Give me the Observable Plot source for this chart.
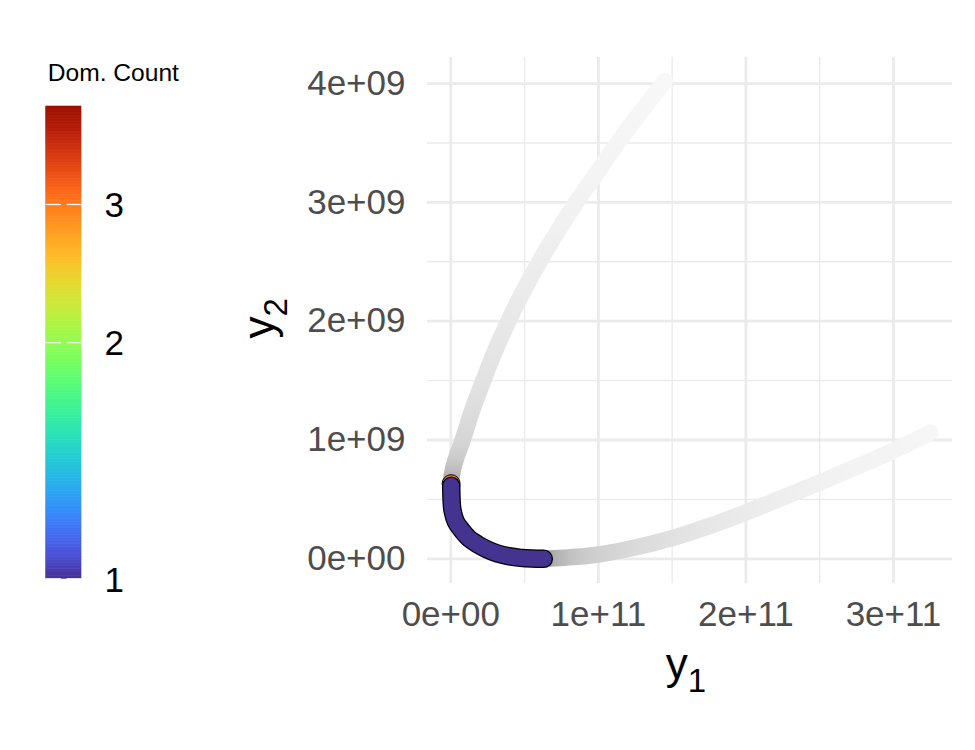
<!DOCTYPE html>
<html>
<head>
<meta charset="utf-8">
<script src="https://cdn.jsdelivr.net/npm/d3@7"></script>
<script src="https://cdn.jsdelivr.net/npm/@observablehq/plot@0.6"></script>
<style>
  body { margin: 0; background: white; }
  #wrap { display: flex; flex-direction: row; width: 975px; height: 750px; background: white; }
  #wrap svg { display: block; }
</style>
</head>
<body>
<div id="wrap"></div>
<script>
// ---------- data ----------
// gray path, upper branch (from top end down to the front)
const upperX = [1.45e11, 1.28e11, 1.13e11, 0.99e11, 0.85e11, 0.72e11, 0.60e11, 0.49e11, 0.39e11, 0.30e11, 0.22e11, 0.145e11, 0.08e11, 0.037e11, 0.012e11, 0.002e11, 0.0];
const upperY = [4.02e9, 3.75e9, 3.50e9, 3.25e9, 3.00e9, 2.75e9, 2.50e9, 2.25e9, 2.00e9, 1.75e9, 1.50e9, 1.25e9, 1.00e9, 0.85e9, 0.74e9, 0.66e9, 0.614e9];
const upperShade = [248, 246, 245, 244, 242, 240, 237, 235, 232, 229, 226, 221, 214, 204, 188, 165, 150];
// gray path, lower branch (from the front out to the right end)
const lowerX = [0.63e11, 0.70e11, 0.80e11, 0.90e11, 1.00e11, 1.25e11, 1.50e11, 1.75e11, 2.00e11, 2.25e11, 2.50e11, 2.75e11, 3.00e11, 3.25e11];
const lowerY = [0.0, 0.004e9, 0.012e9, 0.022e9, 0.036e9, 0.095e9, 0.174e9, 0.275e9, 0.39e9, 0.515e9, 0.642e9, 0.775e9, 0.909e9, 1.063e9];
const lowerShade = [150, 175, 192, 202, 208, 218, 225, 231, 235, 238, 241, 243, 244, 246];
// non-dominated front (Dom. Count = 1)
const frontX = [0.003e11, 0.005e11, 0.012e11, 0.035e11, 0.077e11, 0.125e11, 0.179e11, 0.245e11, 0.315e11, 0.39e11, 0.473e11, 0.55e11, 0.63e11];
const frontY = [0.614e9, 0.50e9, 0.404e9, 0.31e9, 0.236e9, 0.17e9, 0.124e9, 0.08e9, 0.045e9, 0.022e9, 0.008e9, 0.002e9, 0.0];
const frontCount = [1, 1, 1, 1, 1, 1, 1, 1, 1, 1, 1, 1, 1];
// single dominated point under the front's upper end
const extraX = [0.002e11];
const extraY = [0.632e9];
const extraCount = [3];

// axes
const xTicks = [0, 1e11, 2e11, 3e11];
const xTickLabels = ["0e+00", "1e+11", "2e+11", "3e+11"];
const xMinor = [0.5e11, 1.5e11, 2.5e11];
const yTicks = [0, 1e9, 2e9, 3e9, 4e9];
const yTickLabels = ["0e+00", "1e+09", "2e+09", "3e+09", "4e+09"];
const yMinor = [0.5e9, 1.5e9, 2.5e9, 3.5e9];
const legendTicks = [1, 2, 3];
const legendTitle = "Dom. Count";
const xTitle = ["y", "1"];
const yTitle = ["y", "2"];

// ---------- shared scales ----------
const FONT = "'Liberation Sans', Arial, Helvetica, sans-serif";
const colorScale = {
  type: "log",
  domain: [1, 4],
  interpolate: t => d3.interpolateTurbo(0.045 + 0.905 * t)
};
const gray = v => { const c = Math.round(v); return d3.rgb(c, c, c).formatHex(); };

const upper = upperX.map((x, i) => ({x, y: upperY[i]}));
const lower = lowerX.map((x, i) => ({x, y: lowerY[i]}));
const front = frontX.map((x, i) => ({x, y: frontY[i], c: frontCount[i]}));
const extra = extraX.map((x, i) => ({x, y: extraY[i], c: extraCount[i]}));

// gradient definitions, positioned with the chart's own scales
function gradientDefs(index, scales) {
  const ns = "http://www.w3.org/2000/svg";
  const defs = document.createElementNS(ns, "defs");
  function grad(id, vals, shades, axis) {
    const s = scales[axis];
    const p0 = s(vals[0]), p1 = s(vals[vals.length - 1]);
    const g = document.createElementNS(ns, "linearGradient");
    g.setAttribute("id", id);
    g.setAttribute("gradientUnits", "userSpaceOnUse");
    if (axis === "y") {
      g.setAttribute("x1", 0); g.setAttribute("x2", 0);
      g.setAttribute("y1", p0); g.setAttribute("y2", p1);
    } else {
      g.setAttribute("y1", 0); g.setAttribute("y2", 0);
      g.setAttribute("x1", p0); g.setAttribute("x2", p1);
    }
    vals.forEach((v, i) => {
      const st = document.createElementNS(ns, "stop");
      st.setAttribute("offset", Math.max(0, Math.min(1, (s(v) - p0) / (p1 - p0))));
      st.setAttribute("stop-color", gray(shades[i]));
      g.appendChild(st);
    });
    defs.appendChild(g);
  }
  grad("gradUpper", upperY, upperShade, "y");
  grad("gradLower", lowerX, lowerShade, "x");
  return defs;
}

// ---------- legend ----------
const nBands = 150;
const bands = d3.range(nBands).map(i => ({
  y1: Math.pow(4, i / nBands),
  y2: Math.pow(4, (i + 1) / nBands),
  v: Math.pow(4, (i + 0.5) / nBands)
}));

const legend = Plot.plot({
  width: 200,
  height: 750,
  marginLeft: 45.7,
  marginRight: 119,
  marginTop: 106,
  marginBottom: 171.7,
  style: {fontFamily: FONT, background: "white", overflow: "visible"},
  x: {domain: [0, 1], axis: null},
  y: {type: "log", domain: [1, 4], axis: null},
  color: colorScale,
  marks: [
    Plot.rect(bands, {x1: 0, x2: 1, y1: "y1", y2: "y2", fill: "v", stroke: "v", strokeWidth: 0.6}),
    Plot.ruleY(legendTicks, {x1: 0, x2: 0.43, stroke: "white", strokeWidth: 1.2}),
    Plot.ruleY(legendTicks, {x1: 0.595, x2: 1, stroke: "white", strokeWidth: 1.2}),
    Plot.text(legendTicks, {x: 1, y: d => d, text: d => String(d), dx: 23, dy: 1.5, textAnchor: "start", fontSize: 35, fill: "black"}),
    Plot.text([legendTitle], {frameAnchor: "top-left", dx: 1.5, dy: -26, lineAnchor: "bottom", textAnchor: "start", fontSize: 24.6, fill: "black"})
  ]
});

// ---------- main chart ----------
const chart = Plot.plot({
  width: 775,
  height: 750,
  marginLeft: 227,
  marginRight: 23,
  marginTop: 57,
  marginBottom: 167,
  style: {fontFamily: FONT, background: "white", overflow: "visible"},
  x: {domain: [-0.158e11, 3.40e11]},
  y: {domain: [-0.208e9, 4.22e9]},
  color: colorScale,
  marks: [
    gradientDefs,
    Plot.gridX(xMinor, {stroke: "#ebebeb", strokeOpacity: 1, strokeWidth: 1.4}),
    Plot.gridY(yMinor, {stroke: "#ebebeb", strokeOpacity: 1, strokeWidth: 1.4}),
    Plot.gridX(xTicks, {stroke: "#ebebeb", strokeOpacity: 1, strokeWidth: 2.8}),
    Plot.gridY(yTicks, {stroke: "#ebebeb", strokeOpacity: 1, strokeWidth: 2.8}),
    Plot.axisX(xTicks, {tickSize: 0, tickPadding: 17.5, fontSize: 35, color: "#4d4d4d", label: null,
      tickFormat: d => xTickLabels[xTicks.indexOf(d)]}),
    Plot.axisY(yTicks, {tickSize: 0, tickPadding: 22, fontSize: 35, color: "#4d4d4d", label: null,
      tickFormat: d => yTickLabels[yTicks.indexOf(d)]}),
    Plot.line(upper, {x: "x", y: "y", stroke: "url(#gradUpper)", strokeWidth: 16.5, curve: "catmull-rom", strokeLinecap: "round"}),
    Plot.line(lower, {x: "x", y: "y", stroke: "url(#gradLower)", strokeWidth: 16.5, curve: "catmull-rom", strokeLinecap: "round"}),
    Plot.dot(extra, {x: "x", y: "y", r: 9, fill: "c", stroke: "black", strokeWidth: 1}),
    Plot.line(front, {x: "x", y: "y", stroke: "black", strokeWidth: 18.5, curve: "catmull-rom", strokeLinecap: "round", strokeLinejoin: "round"}),
    Plot.line(front, {x: "x", y: "y", stroke: "c", strokeWidth: 16, curve: "catmull-rom", strokeLinecap: "round", strokeLinejoin: "round"}),
    Plot.text([xTitle[0]], {frameAnchor: "bottom", dx: -4, dy: 95, lineAnchor: "bottom", fontSize: 44, fill: "black"}),
    Plot.text([yTitle[0]], {frameAnchor: "left", dx: -154, dy: 18, rotate: -90, lineAnchor: "bottom", fontSize: 44, fill: "black"})
  ]
});

// subscripts on the axis titles
function addSubs(svg) {
  const ns = "http://www.w3.org/2000/svg";
  const texts = Array.from(svg.querySelectorAll("text")).filter(t => t.textContent === "y");
  texts.forEach(t => {
    const tr = (t.getAttribute("transform") || "") + (t.parentNode.getAttribute("transform") || "");
    const sub = /rotate/.test(tr) ? yTitle[1] : xTitle[1];
    const ts = document.createElementNS(ns, "tspan");
    ts.setAttribute("font-size", "33");
    ts.setAttribute("dy", "13");
    ts.textContent = sub;
    t.appendChild(ts);
  });
}
addSubs(chart);

const wrap = document.getElementById("wrap");
wrap.appendChild(legend);
wrap.appendChild(chart);
</script>
</body>
</html>
